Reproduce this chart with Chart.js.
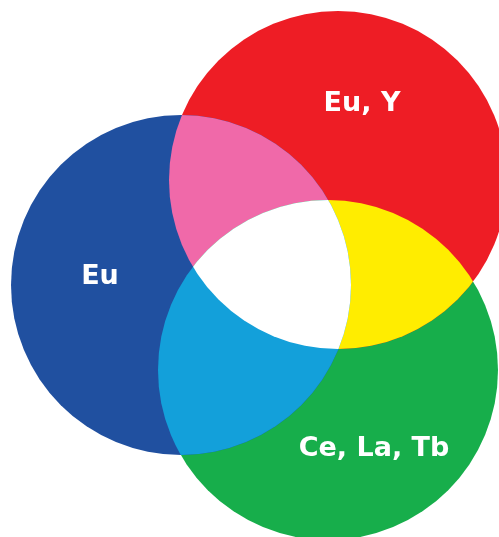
<!DOCTYPE html>
<html>
<head>
<meta charset="utf-8">
<script src="https://cdn.jsdelivr.net/npm/chart.js@4"></script>
<style>
  html, body { margin: 0; padding: 0; background: #fff; overflow: hidden; }
  canvas { display: block; }
</style>
</head>
<body>
<canvas id="venn" width="499" height="537"></canvas>
<script>
// Three sets: circle centres and radii in page units
const sets = ["Eu", "Eu, Y", "Ce, La, Tb"];
const centerX = [181, 338, 328];
const centerY = [285, 180, 370];
const radius = [170, 169, 170];
const colors = ["#2050a0", "#ee1d25", "#17ae4b"];

// overlaps: [i, j] -> colour
const pairs = [[0, 1], [1, 2], [0, 2]];
const pairColors = ["#f069a9", "#ffed00", "#13a0da"];
const centerColor = "#ffffff";

// label baseline position relative to the circle centre
const labelOffset = [[-81, -1], [24, -69], [46, 86]];

const overlapPlugin = {
    id: "overlaps",
    afterDatasetsDraw(chart) {
        const ctx = chart.ctx;
        const circ = chart.data.datasets.map((d, i) => {
            const el = chart.getDatasetMeta(i).data[0];
            return { x: el.x, y: el.y, r: el.options.radius };
        });
        const path = c => { ctx.beginPath(); ctx.arc(c.x, c.y, c.r, 0, Math.PI * 2); };

        pairs.forEach((p, k) => {
            ctx.save();
            path(circ[p[0]]); ctx.clip();
            path(circ[p[1]]);
            ctx.fillStyle = pairColors[k];
            ctx.fill();
            ctx.restore();
        });

        ctx.save();
        path(circ[0]); ctx.clip();
        path(circ[1]); ctx.clip();
        path(circ[2]);
        ctx.fillStyle = centerColor;
        ctx.fill();
        ctx.restore();

        ctx.save();
        ctx.fillStyle = "#fff";
        ctx.font = "bold 27px 'DejaVu Sans'";
        ctx.textAlign = "center";
        ctx.textBaseline = "alphabetic";
        circ.forEach((c, i) => {
            ctx.fillText(sets[i], c.x + labelOffset[i][0], c.y + labelOffset[i][1]);
        });
        ctx.restore();
    }
};

new Chart(document.getElementById("venn"), {
    type: "bubble",
    data: {
        datasets: sets.map((s, i) => ({
            label: s,
            data: [{ x: centerX[i], y: centerY[i], r: radius[i] }],
            backgroundColor: colors[i],
            borderWidth: 0,
            hoverBorderWidth: 0
        }))
    },
    options: {
        responsive: false,
        animation: false,
        events: [],
        layout: { padding: 0, autoPadding: false },
        clip: false,
        scales: {
            x: { type: "linear", min: 0, max: 499, display: false },
            y: { type: "linear", min: 0, max: 537, reverse: true, display: false }
        },
        plugins: { legend: { display: false }, tooltip: { enabled: false } }
    },
    plugins: [overlapPlugin]
});
</script>
</body>
</html>
